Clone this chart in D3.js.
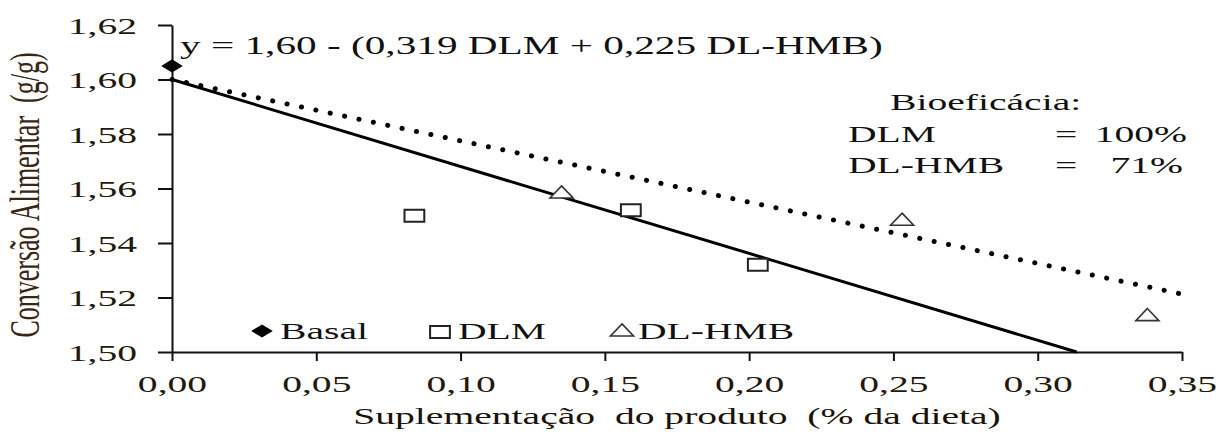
<!DOCTYPE html>
<html>
<head>
<meta charset="utf-8">
<script src="https://cdn.jsdelivr.net/npm/d3@7"></script>
<style>
  html, body { margin: 0; padding: 0; background: #fff; }
  svg { display: block; }
  .serif { font-family: "Liberation Serif", "Times New Roman", serif; }
</style>
</head>
<body>
<svg id="chart" width="1230" height="438"></svg>
<script>
// Observed values
const basalX = [0.00];
const basalY = [1.605];
const dlmX = [0.084, 0.159, 0.203];
const dlmY = [1.550, 1.552, 1.532];
const hmbX = [0.135, 0.253, 0.338];
const hmbY = [1.558, 1.548, 1.513];

// Regression y = a - (bDLM * DLM + bHMB * DL-HMB)
const intercept = 1.60;
const slopeDLM = 0.319;
const slopeHMB = 0.225;

const xTicks = [0, 0.05, 0.10, 0.15, 0.20, 0.25, 0.30, 0.35];
const yTicks = [1.50, 1.52, 1.54, 1.56, 1.58, 1.60, 1.62];

const legendLabels = ["Basal", "DLM", "DL-HMB"];
const bioLabels = ["DLM", "DL-HMB"];
const bioValues = ["100%", "71%"];

// horizontal stretch applied to text and markers
const SX = 1.65;
const fmt = v => d3.format(".2f")(v).replace(".", ",");

const svg = d3.select("#chart");
const x = d3.scaleLinear().domain([0, 0.35]).range([172, 1182]);
const y = d3.scaleLinear().domain([1.50, 1.62]).range([352, 25]);

// Axes
const yAxis = svg.append("g").attr("transform", `translate(${x(0)},0)`)
  .call(d3.axisLeft(y).tickValues(yTicks).tickSize(14).tickSizeOuter(0).tickFormat(fmt));
const xAxis = svg.append("g").attr("transform", `translate(0,${y(1.50)})`)
  .call(d3.axisBottom(x).tickValues(xTicks).tickSize(9).tickSizeOuter(0).tickFormat(fmt));

[yAxis, xAxis].forEach(g => {
  g.select(".domain").attr("stroke", "#111").attr("stroke-width", 2);
  g.selectAll(".tick line").attr("stroke", "#111").attr("stroke-width", 2);
  g.selectAll(".tick text")
    .attr("class", "serif")
    .attr("font-size", 24)
    .attr("fill", "#24180c");
});
yAxis.selectAll(".tick text")
  .attr("x", 0).attr("dy", "0.34em")
  .attr("transform", `translate(-35,0) scale(${SX},1)`);
xAxis.selectAll(".tick text")
  .attr("y", 0).attr("dy", 0)
  .attr("transform", `translate(0,40) scale(${SX},1)`);

// Regression lines
const line = d3.line().x(d => x(d[0])).y(d => y(d[1]));
const xEndDLM = (intercept - 1.50) / slopeDLM;
svg.append("path")
  .attr("d", line([[0, intercept], [xEndDLM, intercept - slopeDLM * xEndDLM]]))
  .attr("fill", "none").attr("stroke", "#000").attr("stroke-width", 3);
svg.append("path")
  .attr("d", line([[0, intercept], [0.35, intercept - slopeHMB * 0.35]]))
  .attr("fill", "none").attr("stroke", "#000").attr("stroke-width", 5)
  .attr("stroke-linecap", "round").attr("stroke-dasharray", "0.1 14.6");

// Markers
const diamondPath = d3.symbol(d3.symbolSquare, 85)();
const squarePath = d3.symbol(d3.symbolSquare, 144)();
const trianglePath = d3.symbol(d3.symbolTriangle, 85)();

function diamond(g, cx, cy) {
  g.append("path").attr("d", diamondPath)
    .attr("transform", `translate(${cx},${cy}) scale(${SX},1) rotate(45)`)
    .attr("fill", "#000");
}
function square(g, cx, cy) {
  g.append("path").attr("d", squarePath)
    .attr("transform", `translate(${cx},${cy}) scale(${SX},1)`)
    .attr("fill", "#fff").attr("stroke", "#222").attr("stroke-width", 2)
    .attr("vector-effect", "non-scaling-stroke");
}
function triangle(g, cx, cy) {
  g.append("path").attr("d", trianglePath)
    .attr("transform", `translate(${cx},${cy}) scale(${SX},1)`)
    .attr("fill", "#fff").attr("stroke", "#333").attr("stroke-width", 1.6)
    .attr("vector-effect", "non-scaling-stroke");
}

const marks = svg.append("g");
basalX.forEach((v, i) => diamond(marks, x(v), y(basalY[i])));
dlmX.forEach((v, i) => square(marks, x(v), y(dlmY[i])));
hmbX.forEach((v, i) => triangle(marks, x(v), y(hmbY[i])));

// Text helper with horizontal stretch
function label(px, py, str, opts = {}) {
  return svg.append("text")
    .attr("class", opts.cls || "serif")
    .attr("font-size", opts.size || 24)
    .attr("fill", opts.fill || "#111")
    .attr("text-anchor", opts.anchor || "start")
    .attr("transform", `translate(${px},${py}) scale(${SX},1)` + (opts.rot ? ` rotate(${opts.rot})` : ""))
    .style("white-space", "pre")
    .text(str);
}

// Legend
const leg = svg.append("g");
diamond(leg, 262, 331);
square(leg, 440, 332);
triangle(leg, 622, 332);
label(280, 339, legendLabels[0]);
label(458, 339, legendLabels[1]);
label(638, 339, legendLabels[2]);

// Equation
label(180, 54, `y = ${fmt(intercept)} - (${String(slopeDLM).replace(".", ",")} DLM + ${String(slopeHMB).replace(".", ",")} DL-HMB)`, { size: 25 });

// Bioefficacy box
label(890, 110, "Bioeficácia:");
label(848, 142, bioLabels[0]);
label(848, 173, bioLabels[1]);
label(1055, 142, "=");
label(1055, 173, "=");
label(1187, 142, bioValues[0], { anchor: "end" });
label(1183, 173, bioValues[1], { anchor: "end" });

// Axis titles
label(677, 424, "Suplementação  do produto  (% da dieta)", { anchor: "middle", fill: "#1a1208" });
label(39, 195, "Conversão Alimentar  (g/g)", {
  cls: "", size: 26, anchor: "middle", fill: "#3a2614", rot: -90
}).attr("font-family", "'Liberation Sans', Arial, sans-serif");
</script>
</body>
</html>
